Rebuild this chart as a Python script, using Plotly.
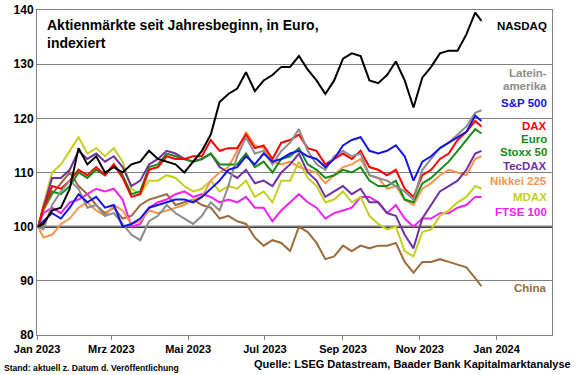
import plotly.graph_objects as go

dates = ["2023-01-02", "2023-01-06", "2023-01-13", "2023-01-20", "2023-01-27",
         "2023-02-03", "2023-02-10", "2023-02-17", "2023-02-24",
         "2023-03-03", "2023-03-10", "2023-03-17", "2023-03-24", "2023-03-31",
         "2023-04-07", "2023-04-14", "2023-04-21", "2023-04-28",
         "2023-05-05", "2023-05-12", "2023-05-19", "2023-05-26",
         "2023-06-02", "2023-06-09", "2023-06-16", "2023-06-23", "2023-06-30",
         "2023-07-07", "2023-07-14", "2023-07-21", "2023-07-28",
         "2023-08-04", "2023-08-11", "2023-08-18", "2023-08-25",
         "2023-09-01", "2023-09-08", "2023-09-15", "2023-09-22", "2023-09-29",
         "2023-10-06", "2023-10-13", "2023-10-20", "2023-10-27",
         "2023-11-03", "2023-11-10", "2023-11-17", "2023-11-24",
         "2023-12-01", "2023-12-08", "2023-12-15", "2023-12-20"]

nasdaq = [100, 100.5, 103, 103.5, 107, 114.5, 111.5, 113, 110, 111, 110, 111.5, 112, 114,
          112.5, 112, 111.5, 110, 112, 114, 117, 123, 124.5, 125.5, 128.5, 125, 127,
          128, 129.5, 129.5, 131.5, 129, 127, 124.5, 127, 131, 132, 131.5, 127, 126.5,
          128, 130.5, 127, 122, 127.5, 129.5, 132, 132.5, 132.5, 135.5, 139.5, 138]
latam = [100, 99.5, 104, 106.5, 108.5, 107, 103.5, 104, 102, 102.5, 100.5, 98.5, 97.5, 101,
         102, 104, 102.5, 101.5, 100.5, 102, 104.5, 103, 107.5, 113, 116.5, 113.5, 114,
         111.5, 114, 115.5, 118, 114, 111.5, 110.5, 113, 114, 113, 113.5, 109.5, 109,
         108.5, 107.5, 106.5, 105, 110.5, 112.5, 114.5, 115.5, 117, 118.5, 121, 121.5]
sp500 = [100, 101, 102.5, 101.5, 103.5, 106, 104.5, 105.5, 103.5, 104, 100, 100.5, 101.5, 103.5,
         104, 104.5, 105, 105, 104.5, 105.5, 107, 108.5, 110.5, 111, 113, 111.5, 113.5,
         112, 112.5, 113.5, 114, 113, 112.5, 111, 112.5, 115, 116, 116.5, 114, 113.5,
         114, 115, 113, 108.5, 112, 113, 114.5, 115.5, 116.5, 117.5, 120.5, 119.5]
dax = [100, 103.5, 107.5, 107, 108.5, 110.5, 109.5, 111, 109.5, 111.5, 109, 105.5, 106, 110.5,
       111, 113, 112.5, 112.5, 113, 113, 116, 114, 114.5, 114.5, 117, 114.5, 115,
       112.5, 115.5, 116, 117, 114.5, 114, 111.5, 112.5, 113.5, 112.5, 114, 111, 110.5,
       109.5, 110.5, 107, 105.5, 109.5, 110.5, 112.5, 113.5, 116, 117.5, 119.5, 118.5]
stoxx50 = [100, 103.5, 106.5, 106, 107.5, 110, 109, 110.5, 109.5, 111.5, 109.5, 106, 106.5, 111,
           111.5, 113.5, 113, 112.5, 112, 112.5, 113.5, 111.5, 111.5, 111.5, 113.5, 111, 112,
           110, 112.5, 113, 114.5, 111.5, 110.5, 109, 109.5, 110.5, 110, 111, 108.5, 107.5,
           107.5, 108.5, 105, 104.5, 108, 109, 110.5, 112, 114, 116, 118, 117.2]
tecdax = [100, 103.5, 109, 109, 110.5, 114, 112.5, 113.5, 112, 113, 111, 107.5, 108.5, 111.5,
          112.5, 114, 113.5, 112.5, 112, 112.5, 113.5, 111, 110, 109, 110.5, 108, 108.5,
          107.5, 110, 111.5, 113.5, 110, 108.5, 105.5, 106.5, 107.5, 106, 107, 104.5, 104.5,
          102.5, 102, 98.5, 96, 101.5, 104, 106.5, 107.5, 108.5, 110.5, 113.5, 114]
nikkei = [100, 98, 98.5, 100.5, 101.5, 103.5, 104.5, 103, 102, 104, 103, 100.5, 101, 103,
          102.5, 103, 103.5, 104, 105, 105.5, 108.5, 110, 111, 114, 117.5, 115, 114.5,
          112, 111.5, 112, 111, 110.5, 110, 108, 109.5, 111, 111.5, 112.5, 109.5, 109,
          107, 107.5, 105, 104, 107, 108, 109.5, 110.5, 110, 109.5, 112.5, 113]
mdax = [100, 104, 110, 111.5, 114, 116.5, 113.5, 114.5, 113, 114.5, 112, 107, 106, 108.5,
        108.5, 109.5, 109, 107.5, 106.5, 107, 108.5, 106.5, 107.5, 107, 108.5, 105.5, 106.5,
        104.5, 108.5, 108.5, 112, 109, 107.5, 104.5, 105, 106.5, 104.5, 105.5, 102, 100.5,
        99.5, 100, 95.5, 94.5, 99, 99.5, 102, 103, 104.5, 105.5, 107.5, 107]
ftse = [100, 102.5, 103.5, 102.5, 104.5, 105, 106, 107, 106.5, 107, 105, 100, 100.5, 103.5,
        104.5, 105, 106, 106.5, 105.5, 106, 105.5, 104.5, 105, 104.5, 105.5, 103.5, 103.5,
        101, 103, 104.5, 106, 104.5, 103.5, 101.5, 102.5, 103, 103.5, 105.5, 105.5, 104.5,
        102.5, 104, 101.5, 100, 101.5, 101.5, 102.5, 102.5, 103.5, 104, 105.5, 105.5]
china = [100, 103, 106, 108, 110, 107.5, 106, 104, 102.5, 103.5, 101.5, 102, 104, 105,
         105.5, 106, 104, 104.5, 105, 104, 103.5, 101.5, 102, 101, 100.5, 98, 96.5,
         97.5, 97, 95.5, 100, 99, 97, 94, 94.5, 96.5, 95.5, 96.5, 96, 96.5,
         96.5, 97, 93.5, 91.5, 93.5, 93.5, 94, 93.5, 93, 92.5, 90.5, 89]

series_names = ["China", "FTSE 100", "MDAX", "Nikkei 225", "TecDAX", "Euro Stoxx 50",
                "DAX", "Lateinamerika", "S&P 500", "NASDAQ"]
series_values = [china, ftse, mdax, nikkei, tecdax, stoxx50, dax, latam, sp500, nasdaq]
series_colors = ["#9c6b3a", "#ee22ee", "#c3cf1f", "#f7964a", "#7030a0", "#148c14",
                 "#ff0000", "#8c8c8c", "#1414e6", "#000000"]

tick_vals = ["2023-01-01", "2023-03-01", "2023-05-01", "2023-07-01",
             "2023-09-01", "2023-11-01", "2024-01-01"]
tick_text = ["Jan 2023", "Mrz 2023", "Mai 2023", "Jul 2023", "Sep 2023", "Nov 2023", "Jan 2024"]

label_text = ["NASDAQ", "Latein-", "amerika", "S&P 500", "DAX", "Euro", "Stoxx 50",
              "TecDAX", "Nikkei 225", "MDAX", "FTSE 100", "China"]
label_colors = ["#000000", "#8c8c8c", "#8c8c8c", "#1414e6", "#ff0000", "#148c14", "#148c14",
                "#7030a0", "#f7964a", "#c3cf1f", "#ee22ee", "#9c6b3a"]
label_ypix = [26, 73, 86, 103, 126, 139, 152, 166, 181, 197, 212, 288]

FONT = "Liberation Sans, Arial, sans-serif"
W, H = 580, 375
L, R, T, B = 37, 28, 10, 40
PW, PH = W - L - R, H - T - B


def px_to_paper_y(y):
    return (H - B - y) / PH


def px_to_paper_x(x):
    return (x - L) / PW


fig = go.Figure()
for name, vals, col in zip(series_names, series_values, series_colors):
    fig.add_trace(go.Scatter(x=dates, y=vals, mode="lines", name=name,
                             line=dict(color=col, width=2), showlegend=False))

fig.add_shape(type="line", xref="paper", yref="y", x0=0, x1=1, y0=100, y1=100,
              line=dict(color="black", width=2), layer="below")

annotations = []
annotations.append(dict(text="<b>Aktienmärkte seit Jahresbeginn, in Euro,<br>indexiert</b>",
                        xref="paper", yref="paper", x=px_to_paper_x(45), y=px_to_paper_y(33.5),
                        xanchor="left", yanchor="middle", align="left", showarrow=False,
                        font=dict(family=FONT, size=14, color="black")))
for t, c, yp in zip(label_text, label_colors, label_ypix):
    annotations.append(dict(text="<b>" + t + "</b>", xref="paper", yref="paper",
                            x=px_to_paper_x(549), y=px_to_paper_y(yp), xanchor="right",
                            yanchor="middle", showarrow=False,
                            font=dict(family=FONT, size=11.5, color=c)))
annotations.append(dict(text="<b>Stand: aktuell z. Datum d. Veröffentlichung</b>",
                        xref="paper", yref="paper", x=px_to_paper_x(2), y=px_to_paper_y(368),
                        xanchor="left", yanchor="middle", showarrow=False,
                        font=dict(family=FONT, size=8.6, color="black")))
annotations.append(dict(text="<b>Quelle: LSEG Datastream, Baader Bank Kapitalmarktanalyse</b>",
                        xref="paper", yref="paper", x=px_to_paper_x(573), y=px_to_paper_y(364),
                        xanchor="right", yanchor="middle", showarrow=False,
                        font=dict(family=FONT, size=11, color="black")))

fig.update_layout(
    width=W, height=H,
    margin=dict(l=L, r=R, t=T, b=B, autoexpand=False),
    paper_bgcolor="white", plot_bgcolor="white",
    annotations=annotations,
    font=dict(family=FONT, color="black"),
)
fig.update_xaxes(range=["2023-01-01", "2024-02-14"], tickvals=tick_vals, ticktext=tick_text,
                 showgrid=False, showline=True, linecolor="#808080", linewidth=1, mirror=True,
                 ticks="outside", ticklen=4, tickcolor="#808080", automargin=False,
                 tickfont=dict(family=FONT, size=11, color="black", weight="bold"))
fig.update_yaxes(range=[80, 140], dtick=10, tick0=80, showgrid=True, gridcolor="#808080",
                 gridwidth=1, showline=True, linecolor="#808080", linewidth=1, mirror=True,
                 ticks="", zeroline=False, automargin=False,
                 tickfont=dict(family=FONT, size=12, color="black", weight="bold"))

post = ("document.body.style.margin='0';"
        "var d=document.getElementById('{plot_id}');"
        "d.style.position='fixed';d.style.top='0px';d.style.left='0px';")
fig.write_html("out.html", post_script=post, config={"displayModeBar": False})
